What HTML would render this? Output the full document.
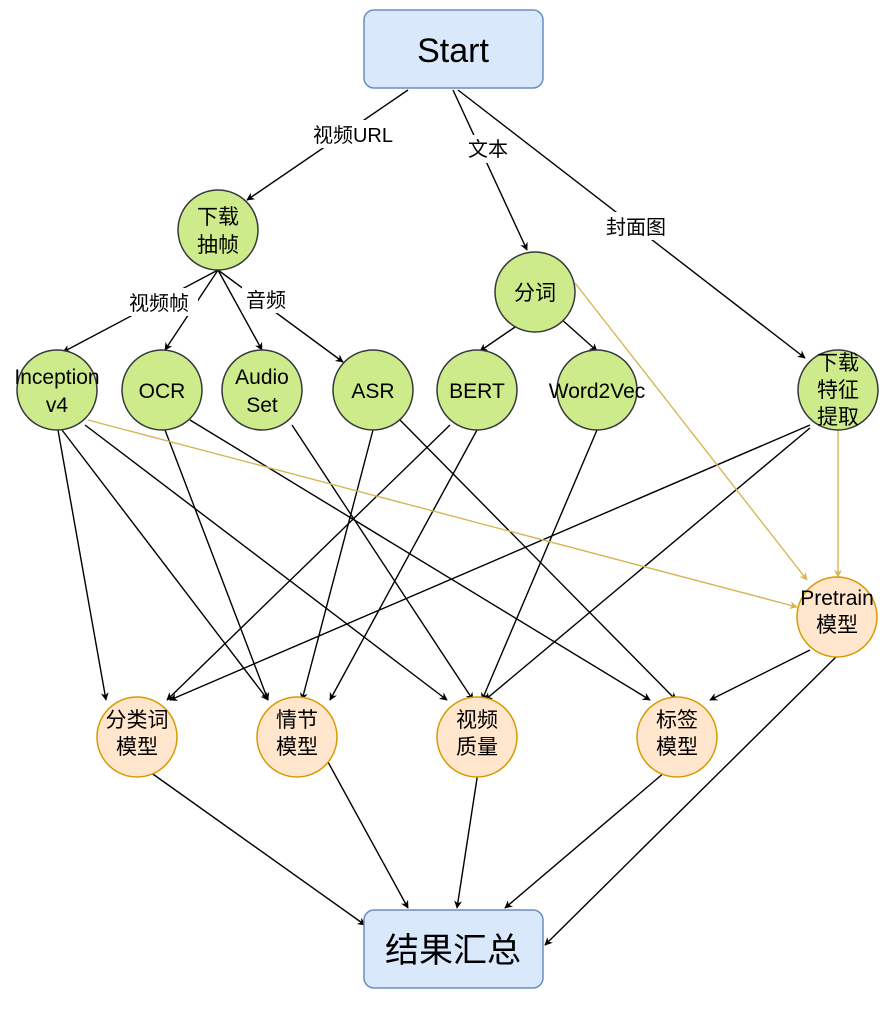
<!DOCTYPE html>
<html><head><meta charset="utf-8"><style>
html,body{margin:0;padding:0;background:#fff;}
svg text{font-family:"Liberation Sans","Noto Sans CJK SC",sans-serif;fill:#000;}
</style></head><body>
<svg width="892" height="1004" viewBox="0 0 892 1004" xmlns="http://www.w3.org/2000/svg">
<defs>
<marker id="a" viewBox="0 0 10 10" refX="9" refY="5" markerWidth="8" markerHeight="8" orient="auto" markerUnits="userSpaceOnUse"><path d="M0,0 L10,5 L0,10 L3,5 z" fill="#000"/></marker>
<marker id="g" viewBox="0 0 10 10" refX="9" refY="5" markerWidth="8" markerHeight="8" orient="auto" markerUnits="userSpaceOnUse"><path d="M0,0 L10,5 L0,10 L3,5 z" fill="#d6b656"/></marker>
</defs>
<g stroke="#000" stroke-width="1.4" fill="none" marker-end="url(#a)">
<line x1="408" y1="90" x2="247" y2="200"/>
<line x1="453" y1="90" x2="527" y2="250"/>
<line x1="458" y1="90" x2="805" y2="358"/>
<line x1="218" y1="270" x2="63" y2="352"/>
<line x1="218" y1="270" x2="165" y2="350"/>
<line x1="218" y1="270" x2="262" y2="350"/>
<line x1="218" y1="270" x2="343" y2="362"/>
<line x1="518" y1="325" x2="480" y2="351"/>
<line x1="560" y1="318" x2="597" y2="351"/>
<line x1="58" y1="430" x2="106" y2="700"/>
<line x1="62" y1="430" x2="268" y2="700"/>
<line x1="85" y1="425" x2="447" y2="700"/>
<line x1="165" y1="430" x2="268" y2="700"/>
<line x1="190" y1="420" x2="650" y2="700"/>
<line x1="292" y1="425" x2="473" y2="700"/>
<line x1="373" y1="430" x2="302" y2="700"/>
<line x1="400" y1="420" x2="676" y2="700"/>
<line x1="450" y1="425" x2="167" y2="700"/>
<line x1="477" y1="430" x2="330" y2="700"/>
<line x1="597" y1="430" x2="482" y2="700"/>
<line x1="810" y1="425" x2="170" y2="700"/>
<line x1="810" y1="428" x2="485" y2="700"/>
<line x1="810" y1="650" x2="710" y2="700"/>
<line x1="840" y1="653" x2="545" y2="945"/>
<line x1="150" y1="772" x2="365" y2="925"/>
<line x1="328" y1="762" x2="408" y2="908"/>
<line x1="478" y1="772" x2="457" y2="908"/>
<line x1="665" y1="772" x2="505" y2="908"/>
</g>
<g stroke="#d6b656" stroke-width="1.4" fill="none" marker-end="url(#g)">
<line x1="575" y1="283" x2="807" y2="580"/>
<line x1="88" y1="420" x2="797" y2="607"/>
<line x1="838" y1="430" x2="838" y2="577"/>
</g>
<g font-size="20" text-anchor="middle">
<rect x="302" y="120" width="103" height="28" fill="#fff"/><text x="353" y="142">视频URL</text>
<rect x="465" y="135" width="46" height="28" fill="#fff"/><text x="488" y="156">文本</text>
<rect x="601" y="212" width="72" height="28" fill="#fff"/><text x="636" y="234">封面图</text>
<rect x="122" y="288" width="76" height="28" fill="#fff"/><text x="159" y="310">视频帧</text>
<rect x="242" y="285" width="50" height="28" fill="#fff"/><text x="266" y="307">音频</text>
</g>
<rect x="364" y="10" width="179" height="78" rx="10" fill="#dae8fc" stroke="#6c8ebf" stroke-width="1.5"/>
<text x="453" y="62" font-size="34" text-anchor="middle">Start</text>
<rect x="364" y="910" width="179" height="78" rx="10" fill="#dae8fc" stroke="#6c8ebf" stroke-width="1.5"/>
<text x="453" y="962" font-size="34" text-anchor="middle">结果汇总</text>
<g fill="#cdeb8b" stroke="#36393d" stroke-width="1.5">
<ellipse cx="218" cy="230" rx="40" ry="40"/>
<ellipse cx="535" cy="292" rx="40" ry="40"/>
<ellipse cx="57" cy="390" rx="40" ry="40"/>
<ellipse cx="162" cy="390" rx="40" ry="40"/>
<ellipse cx="262" cy="390" rx="40" ry="40"/>
<ellipse cx="373" cy="390" rx="40" ry="40"/>
<ellipse cx="477" cy="390" rx="40" ry="40"/>
<ellipse cx="597" cy="390" rx="40" ry="40"/>
<ellipse cx="838" cy="390" rx="40" ry="40"/>
</g>
<g fill="#ffe6cc" stroke="#d79b00" stroke-width="1.5">
<ellipse cx="837" cy="617" rx="40" ry="40"/>
<ellipse cx="137" cy="737" rx="40" ry="40"/>
<ellipse cx="297" cy="737" rx="40" ry="40"/>
<ellipse cx="477" cy="737" rx="40" ry="40"/>
<ellipse cx="677" cy="737" rx="40" ry="40"/>
</g>
<g font-size="21" text-anchor="middle">
<text x="218" y="224">下载</text><text x="218" y="252">抽帧</text>
<text x="535" y="300">分词</text>
<text x="57" y="384">Inception</text><text x="57" y="412">v4</text>
<text x="162" y="398">OCR</text>
<text x="262" y="384">Audio</text><text x="262" y="412">Set</text>
<text x="373" y="398">ASR</text>
<text x="477" y="398">BERT</text>
<text x="597" y="398">Word2Vec</text>
<text x="838" y="370">下载</text><text x="838" y="397">特征</text><text x="838" y="424">提取</text>
<text x="837" y="605">Pretrain</text><text x="837" y="632">模型</text>
<text x="137" y="727">分类词</text><text x="137" y="754">模型</text>
<text x="297" y="727">情节</text><text x="297" y="754">模型</text>
<text x="477" y="727">视频</text><text x="477" y="754">质量</text>
<text x="677" y="727">标签</text><text x="677" y="754">模型</text>
</g>
</svg>
</body></html>
